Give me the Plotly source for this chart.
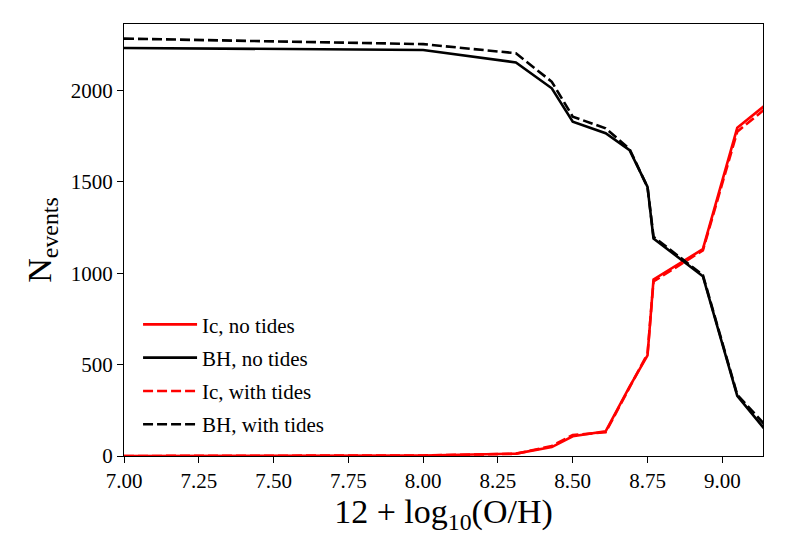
import plotly.graph_objects as go

# metallicity grid, 12 + log10(O/H)
oh = [7.00, 8.00, 8.31, 8.43, 8.50, 8.61, 8.69, 8.75, 8.77, 8.935, 9.05, 9.14]

# number of events per channel
ic_no_tides = [0, 3, 13, 49, 108, 135, 380, 551, 966, 1132, 1796, 1915]
bh_no_tides = [2233, 2222, 2154, 2012, 1829, 1766, 1674, 1473, 1190, 984, 329, 150]
ic_tides = [0, 3, 12, 55, 115, 130, 375, 560, 955, 1125, 1775, 1895]
bh_tides = [2284, 2254, 2204, 2048, 1857, 1793, 1680, 1470, 1200, 990, 335, 175]

font_family = "Liberation Serif"

fig = go.Figure()

series = [
    ("Ic, no tides", ic_no_tides, "red", "solid"),
    ("BH, no tides", bh_no_tides, "black", "solid"),
    ("Ic, with tides", ic_tides, "red", "10px,4px"),
    ("BH, with tides", bh_tides, "black", "10px,4px"),
]
for i, (name, vals, color, dash) in enumerate(series):
    fig.add_trace(go.Scatter(
        x=oh, y=vals, mode="lines", name=name, legendgroup=str(i),
        line=dict(color=color, width=2.6, dash=dash),
    ))

axis_common = dict(
    showline=True, linecolor="black", linewidth=1.3, mirror=True,
    ticks="outside", ticklen=6, tickwidth=1.2, tickcolor="black",
    showgrid=False, zeroline=False,
    tickfont=dict(family=font_family, size=21, color="black"),
)

fig.update_xaxes(
    range=[7.0, 9.136], tickvals=[7.0, 7.25, 7.5, 7.75, 8.0, 8.25, 8.5, 8.75, 9.0],
    tickformat=".2f",
    title=dict(text="12 + log<sub>10</sub>(O/H)", font=dict(family=font_family, size=34, color="black"), standoff=6),
    **axis_common,
)
fig.update_yaxes(
    range=[0, 2364], tickvals=[0, 500, 1000, 1500, 2000],
    title=dict(text="N<sub>events</sub>", font=dict(family=font_family, size=34, color="black"), standoff=8),
    **axis_common,
)

# the page adds an 8px body margin, so the margins are shifted by that much
fig.update_layout(
    width=788, height=560,
    margin=dict(l=116, r=33, t=16, b=112),
    paper_bgcolor="white", plot_bgcolor="white",
    legend=dict(
        x=0.022, y=0.025, xanchor="left", yanchor="bottom",
        font=dict(family=font_family, size=21, color="black"),
        bgcolor="rgba(255,255,255,0)", tracegroupgap=3,
        traceorder="grouped", itemwidth=54,
    ),
)

fig.write_html("out.html")
